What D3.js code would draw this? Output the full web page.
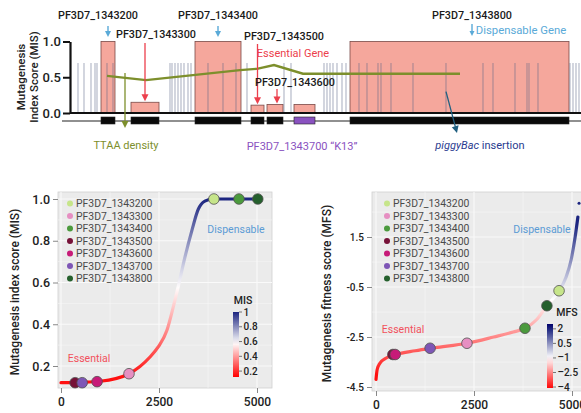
<!DOCTYPE html>
<html>
<head>
<meta charset="utf-8">
<script src="https://cdn.jsdelivr.net/npm/d3@7"></script>
<style>
  body { margin: 0; background: #fff; }
  text { font-family: Roboto, "Noto Sans", sans-serif; }
</style>
</head>
<body>
<div id="chart"></div>
<script>
// ---- data ----
const genes = ['PF3D7_1343200', 'PF3D7_1343300', 'PF3D7_1343400', 'PF3D7_1343500',
               'PF3D7_1343600', 'PF3D7_1343700', 'PF3D7_1343800']
const geneColors = ['#c6e58a', '#e68fc2', '#4b9a3d', '#761238', '#c71b78', '#7e56b6', '#25602d']
const geneStart = [3900, 6900, 13300, 18900, 20500, 23200, 28800]
const geneEnd = [5300, 9700, 17900, 20200, 22100, 25300, 50700]
const geneMIS = [1.0, 0.15, 1.0, 0.11, 0.12, 0.12, 1.0]

const ttaaSites = [1600, 2200, 2900, 3300, 3500, 4500, 5100, 10800, 11000, 11300, 11600,
                   11900, 12200, 12600, 12900, 14600, 16100, 17400, 18500, 22200, 22900,
                   26200, 26500, 26800, 27100, 27500, 28000, 28400, 29700, 30500, 31600,
                   31900, 32900, 35100, 38400, 42100, 43100, 45300, 46500, 46700, 47600,
                   50800, 51100, 51400, 51700]
const ttaaHeight = 0.7
const densityPos = [4500, 8400, 17800, 19600, 21200, 24100, 39800]
const densityVal = [0.52, 0.46, 0.60, 0.62, 0.67, 0.55, 0.55]

// MIS rank curve
const misRank = [0, 500, 1000, 1735, 2270, 2475, 2700, 2860, 2990, 3160, 3340, 3500, 3670, 3880, 5020]
const misVal = [0.12, 0.122, 0.127, 0.163, 0.243, 0.29, 0.37, 0.48, 0.58, 0.72, 0.85, 0.95, 0.99, 1.0, 1.0]
const geneRankMIS = [3900, 1735, 4540, 360, 920, 540, 5020]
const geneScoreMIS = [1.0, 0.163, 1.0, 0.12, 0.125, 0.12, 1.0]

// MFS rank curve
const mfsRank = [0, 30, 100, 250, 500, 1000, 1500, 2320, 3000, 3500, 3800, 4100, 4360, 4550, 4670, 4850, 4980, 5080, 5150]
const mfsVal = [-4.2, -3.8, -3.55, -3.35, -3.2, -3.05, -2.93, -2.75, -2.5, -2.3, -2.15, -1.8, -1.25, -0.9, -0.65, -0.1, 0.6, 1.5, 2.3]
const geneRankMFS = [4670, 2320, 3800, 430, 490, 1380, 4360]
const geneScoreMFS = [-0.65, -2.75, -2.15, -3.2, -3.2, -2.95, -1.25]

const misTicks = [0.2, 0.4, 0.6, 0.8, 1.0]
const misLegendTicks = [0.2, 0.4, 0.6, 0.8, 1]
const mfsTicks = [-4.5, -2.5, -0.5, 1.5]
const mfsLegendTicks = [-4, -2.5, -1, 0.5, 2]
const rankTicks = [0, 2500, 5000]

// ---- svg ----
const width = 581, height = 413
const svg = d3.select('#chart').append('svg')
  .attr('width', width).attr('height', height)
const defs = svg.append('defs')

function arrow(g, x1, y1, x2, y2, color, sw, head) {
  const a = Math.atan2(y2 - y1, x2 - x1)
  g.append('line').attr('x1', x1).attr('y1', y1)
    .attr('x2', x2 - head * 0.9 * Math.cos(a)).attr('y2', y2 - head * 0.9 * Math.sin(a))
    .attr('stroke', color).attr('stroke-width', sw)
  const p = [[x2, y2],
    [x2 - head * Math.cos(a) + head * 0.5 * Math.sin(a), y2 - head * Math.sin(a) - head * 0.5 * Math.cos(a)],
    [x2 - head * Math.cos(a) - head * 0.5 * Math.sin(a), y2 - head * Math.sin(a) + head * 0.5 * Math.cos(a)]]
  g.append('path').attr('d', 'M' + p.join('L') + 'Z').attr('fill', color)
}

// ================= top panel =================
const topG = svg.append('g')
const xTop = d3.scaleLinear().domain([0, 51900]).range([62, 581])
const yTop = d3.scaleLinear().domain([0, 1]).range([113, 41.5])

// gene bars
topG.selectAll('rect.bar').data(genes).enter().append('rect')
  .attr('class', 'bar')
  .attr('x', (d, i) => xTop(geneStart[i]))
  .attr('width', (d, i) => xTop(geneEnd[i]) - xTop(geneStart[i]))
  .attr('y', (d, i) => yTop(geneMIS[i]))
  .attr('height', (d, i) => yTop(0) - yTop(geneMIS[i]))
  .attr('fill', '#f5a79c')
  .attr('stroke', '#7a4a48').attr('stroke-width', 0.8)

// TTAA sites
topG.selectAll('line.site').data(ttaaSites).enter().append('line')
  .attr('x1', d => xTop(d)).attr('x2', d => xTop(d))
  .attr('y1', yTop(0)).attr('y2', yTop(ttaaHeight))
  .attr('stroke', '#5a6688').attr('stroke-opacity', 0.45).attr('stroke-width', 1.2)

// axis
const yAxTop = topG.append('g').attr('transform', 'translate(70,0)')
  .call(d3.axisLeft(yTop).tickValues([0, 0.5, 1]).tickFormat(d3.format('.1f')).tickSize(7).tickSizeOuter(0))
yAxTop.select('.domain').attr('stroke', '#111').attr('stroke-width', 2.2)
yAxTop.selectAll('.tick line').attr('stroke', '#111').attr('stroke-width', 2)
yAxTop.selectAll('.tick text').attr('font-size', 13).attr('font-weight', 500).attr('fill', '#222').attr('x', -9)
  .style('font-family', 'Roboto, sans-serif')
topG.append('line').attr('x1', 70).attr('x2', 581).attr('y1', yTop(0)).attr('y2', yTop(0))
  .attr('stroke', '#111').attr('stroke-width', 2)
topG.append('text').attr('transform', 'translate(21,77) rotate(-90)').attr('text-anchor', 'middle')
  .attr('font-size', 11.5).attr('font-weight', 500).attr('fill', '#222').attr('dy', '0.35em').text('Mutagenesis')
topG.append('text').attr('transform', 'translate(34,77) rotate(-90)').attr('text-anchor', 'middle')
  .attr('font-size', 11.5).attr('font-weight', 500).attr('fill', '#222').attr('dy', '0.35em').text('Index Score (MIS)')

// gene track
topG.append('line').attr('x1', 62).attr('x2', 581).attr('y1', 121).attr('y2', 121)
  .attr('stroke', '#222').attr('stroke-width', 1.2)
topG.selectAll('rect.gene').data(genes).enter().append('rect')
  .attr('x', (d, i) => xTop(geneStart[i]))
  .attr('width', (d, i) => xTop(geneEnd[i]) - xTop(geneStart[i]))
  .attr('y', 117).attr('height', 7)
  .attr('fill', (d, i) => i === 5 ? '#8a52c0' : '#0a0a0a')
  .attr('stroke', '#222').attr('stroke-width', 0.6)

// density line
topG.append('path')
  .datum(densityPos)
  .attr('d', d3.line().x(d => xTop(d)).y((d, i) => yTop(densityVal[i])))
  .attr('fill', 'none').attr('stroke', '#7d8f2c').attr('stroke-width', 2.4)

// annotations
const ann = topG.append('g')
const mid = i => xTop((geneStart[i] + geneEnd[i]) / 2)
function label(x, y, txt, color, size, weight) {
  return ann.append('text').attr('x', x).attr('y', y).attr('dy', '0.35em')
    .attr('text-anchor', 'middle').attr('font-size', size || 10.8)
    .attr('font-weight', weight || 500).attr('fill', color || '#1a1a1a').text(txt)
}
label(98, 15, genes[0])
arrow(ann, mid(0), 26, mid(0), 37, '#5aaad8', 1.4, 6)
label(156, 34, genes[1])
arrow(ann, mid(1), 43, mid(1), yTop(geneMIS[1]) - 1, '#ec3f4c', 1.3, 7)
label(218, 15, genes[2])
arrow(ann, mid(2), 26, mid(2), 37, '#5aaad8', 1.4, 6)
label(284, 36, genes[3])
label(293, 53, 'Essential Gene', '#ec3f4c', 11, 400)
arrow(ann, mid(3), 44, mid(3), yTop(geneMIS[3]) - 1, '#ec3f4c', 1.3, 7)
label(295, 82, genes[4])
arrow(ann, mid(4) + 2, 89, mid(4) + 2, yTop(geneMIS[4]) - 1, '#ec3f4c', 1.3, 7)
label(472, 15, genes[6])
label(521, 30, 'Dispensable Gene', '#5aaad8', 11.3, 400)
arrow(ann, 472, 24, 472, 36, '#5aaad8', 1.4, 5)
arrow(ann, xTop(6300), yTop(0.56), xTop(6300), 128, '#7d8f2c', 1.3, 7)
label(126, 145, 'TTAA density', '#7d8f2c', 11, 400)
label(302, 146, 'PF3D7_1343700 \u201CK13\u201D', '#8a52c0', 11, 400)
arrow(ann, xTop(38400), yTop(0.3), xTop(38400) + 11, 133, '#1f5f80', 1.3, 7)
const pb = label(480, 145, '', '#2a3b8f', 11, 400)
pb.append('tspan').attr('font-style', 'italic').text('piggyBac')
pb.append('tspan').text(' insertion')

// ================= rank panels =================
function rankPanel(opt) {
  const g = svg.append('g')
  const x = d3.scaleLinear().domain([0, 5000]).range(opt.xRange)
  const y = d3.scaleLinear().domain(opt.yDomain).range(opt.yRange)
  const [px0, px1, py0, py1] = opt.panel
  g.append('rect').attr('x', px0).attr('y', py0).attr('width', px1 - px0).attr('height', py1 - py0)
    .attr('fill', '#ebebeb').attr('stroke', '#d0d0d0').attr('stroke-width', 0.8)
  const grid = g.append('g')
  grid.selectAll('line.gx').data(opt.xMinor).enter().append('line')
    .attr('x1', d => x(d)).attr('x2', d => x(d)).attr('y1', py0).attr('y2', py1)
    .attr('stroke', '#f6f6f6').attr('stroke-width', 0.6)
  grid.selectAll('line.gy').data(opt.yMinor).enter().append('line')
    .attr('y1', d => y(d)).attr('y2', d => y(d)).attr('x1', px0).attr('x2', px1)
    .attr('stroke', '#f6f6f6').attr('stroke-width', 0.6)
  grid.selectAll('line.mx').data(rankTicks).enter().append('line')
    .attr('x1', d => x(d)).attr('x2', d => x(d)).attr('y1', py0).attr('y2', py1)
    .attr('stroke', '#fafafa').attr('stroke-width', 1.1)
  grid.selectAll('line.my').data(opt.yTicks).enter().append('line')
    .attr('y1', d => y(d)).attr('y2', d => y(d)).attr('x1', px0).attr('x2', px1)
    .attr('stroke', '#fafafa').attr('stroke-width', 1.1)

  // axes
  const ya = g.append('g').attr('transform', `translate(${px0},0)`)
    .call(d3.axisLeft(y).tickValues(opt.yTicks).tickFormat(opt.yFormat).tickSize(5).tickSizeOuter(0))
  ya.select('.domain').remove()
  ya.selectAll('.tick line').attr('stroke', '#888')
  ya.selectAll('.tick text').attr('font-size', opt.yFont).attr('font-weight', 500).attr('fill', '#222').attr('x', -8)
    .style('font-family', 'Roboto, sans-serif')
  const xa = g.append('g').attr('transform', `translate(0,${py1})`)
    .call(d3.axisBottom(x).tickValues(rankTicks).tickFormat(d3.format('d')).tickSize(5).tickSizeOuter(0))
  xa.select('.domain').remove()
  xa.selectAll('.tick line').attr('stroke', '#888')
  xa.selectAll('.tick text').attr('font-size', 12).attr('font-weight', 500).attr('fill', '#222').attr('y', 9)
    .style('font-family', 'Roboto, sans-serif')
  g.append('text').attr('transform', `translate(${opt.titleX},${(py0 + py1) / 2 + 2}) rotate(-90)`)
    .attr('text-anchor', 'middle').attr('dy', '0.35em').attr('font-size', 12).attr('font-weight', 500)
    .attr('fill', '#222').text(opt.title)

  // gradient curve
  const color = d3.scaleLinear().domain(opt.colorDomain).range(['#ff1010', '#ffffff', '#1c2580'])
  const gid = 'grad' + opt.name
  const grad = defs.append('linearGradient').attr('id', gid).attr('gradientUnits', 'userSpaceOnUse')
    .attr('x1', 0).attr('x2', 0).attr('y1', y(opt.colorDomain[0])).attr('y2', y(opt.colorDomain[2]))
  grad.selectAll('stop').data(d3.range(11)).enter().append('stop')
    .attr('offset', d => d / 10)
    .attr('stop-color', d => color(opt.colorDomain[0] + (opt.colorDomain[2] - opt.colorDomain[0]) * d / 10))
  const lg = defs.append('linearGradient').attr('id', gid + 'bar')
    .attr('x1', 0).attr('x2', 0).attr('y1', 1).attr('y2', 0)
  lg.selectAll('stop').data(d3.range(11)).enter().append('stop')
    .attr('offset', d => d / 10)
    .attr('stop-color', d => color(opt.legendDomain[0] + (opt.legendDomain[1] - opt.legendDomain[0]) * d / 10))

  g.append('path').datum(opt.rank)
    .attr('d', d3.line().curve(d3.curveMonotoneX).x(d => x(d)).y((d, i) => y(opt.val[i])))
    .attr('fill', 'none').attr('stroke', `url(#${gid})`).attr('stroke-width', 3.2)
    .attr('stroke-linecap', 'round')

  // gene points
  g.selectAll('circle.pt').data(genes).enter().append('circle')
    .attr('cx', (d, i) => x(opt.geneRank[i])).attr('cy', (d, i) => y(opt.geneScore[i]))
    .attr('r', 5.3).attr('fill', (d, i) => geneColors[i])
    .attr('stroke', '#505050').attr('stroke-width', 0.8)

  // legend
  const leg = g.append('g').attr('transform', `translate(${opt.legX},203.5)`)
  const row = leg.selectAll('g').data(genes).enter().append('g')
    .attr('transform', (d, i) => `translate(0,${i * 12.5})`)
  row.append('circle').attr('r', 3).attr('fill', (d, i) => geneColors[i])
  row.append('text').attr('x', 6).attr('dy', '0.35em').attr('font-size', 10.4).attr('fill', '#4a4a4a').text(d => d)

  g.append('text').attr('x', opt.dispX).attr('y', 229).attr('dy', '0.35em').attr('text-anchor', 'middle')
    .attr('font-size', 10.5).attr('fill', '#5b9bd5').text('Dispensable')
  g.append('text').attr('x', opt.essX).attr('y', opt.essY).attr('dy', '0.35em').attr('text-anchor', 'middle')
    .attr('font-size', 10.5).attr('fill', '#f2505c').text('Essential')

  // colour bar
  const cb = opt.cbar
  const cy = d3.scaleLinear().domain(opt.legendDomain).range([cb.y1, cb.y0])
  g.append('text').attr('x', cb.x + cb.titleDx).attr('y', cb.y0 - 12).attr('dy', '0.35em').attr('text-anchor', 'middle')
    .attr('font-size', 10.5).attr('font-weight', 500).attr('fill', '#222').text(opt.name)
  g.append('rect').attr('x', cb.x).attr('y', cb.y0).attr('width', 6).attr('height', cb.y1 - cb.y0)
    .attr('fill', `url(#${gid}bar)`)
  g.selectAll('line.cbt').data(opt.legendTicks).enter().append('line')
    .attr('x1', cb.x + 6).attr('x2', cb.x + 9).attr('y1', d => cy(d)).attr('y2', d => cy(d))
    .attr('stroke', '#555').attr('stroke-width', 0.8)
  g.selectAll('text.cbl').data(opt.legendTicks).enter().append('text')
    .attr('x', cb.x + 10.5).attr('y', d => cy(d)).attr('dy', '0.35em')
    .attr('font-size', 10).attr('font-weight', 500).attr('fill', '#222').text(opt.legendFormat)
  return { g, x, y }
}

rankPanel({
  name: 'MIS',
  xRange: [61, 257], panel: [58, 272, 192, 388],
  yDomain: [0.2, 1.0], yRange: [366, 199],
  yTicks: misTicks, yMinor: [0.3, 0.5, 0.7, 0.9], xMinor: [1250, 3750],
  yFormat: d3.format('.1f'), yFont: 12.5,
  title: 'Mutagenesis index score (MIS)', titleX: 15,
  colorDomain: [0.15, 0.58, 1.0], legendDomain: [0.12, 1.0],
  rank: misRank, val: misVal, geneRank: geneRankMIS, geneScore: geneScoreMIS,
  legX: 70, dispX: 236, essX: 89, essY: 358,
  cbar: { x: 233, y0: 312, y1: 377, titleDx: 10 },
  legendTicks: misLegendTicks, legendFormat: d => String(d)
})

const right = rankPanel({
  name: 'MFS',
  xRange: [376, 572], panel: [372, 600, 192, 391],
  yDomain: [-4.5, 1.5], yRange: [387, 237],
  yTicks: mfsTicks, yMinor: [-3.5, -1.5, 0.5, 2.5], xMinor: [1250, 3750],
  yFormat: d => d3.format('.1f')(d).replace('\u2212', '-'), yFont: 10,
  title: 'Mutagenesis fitness score (MFS)', titleX: 327,
  colorDomain: [-4, -1, 2], legendDomain: [-4.1, 2.5],
  rank: mfsRank, val: mfsVal, geneRank: geneRankMFS, geneScore: geneScoreMFS,
  legX: 387, dispX: 542, essX: 403, essY: 329,
  cbar: { x: 547, y0: 324, y1: 388, titleDx: 20 },
  legendTicks: mfsLegendTicks, legendFormat: d => d < 0 ? '\u2013' + Math.abs(d) : String(d)
})
right.g.append('circle').attr('cx', right.x(5180)).attr('cy', right.y(2.85)).attr('r', 1.5).attr('fill', '#1c2580')
</script>
</body>
</html>
